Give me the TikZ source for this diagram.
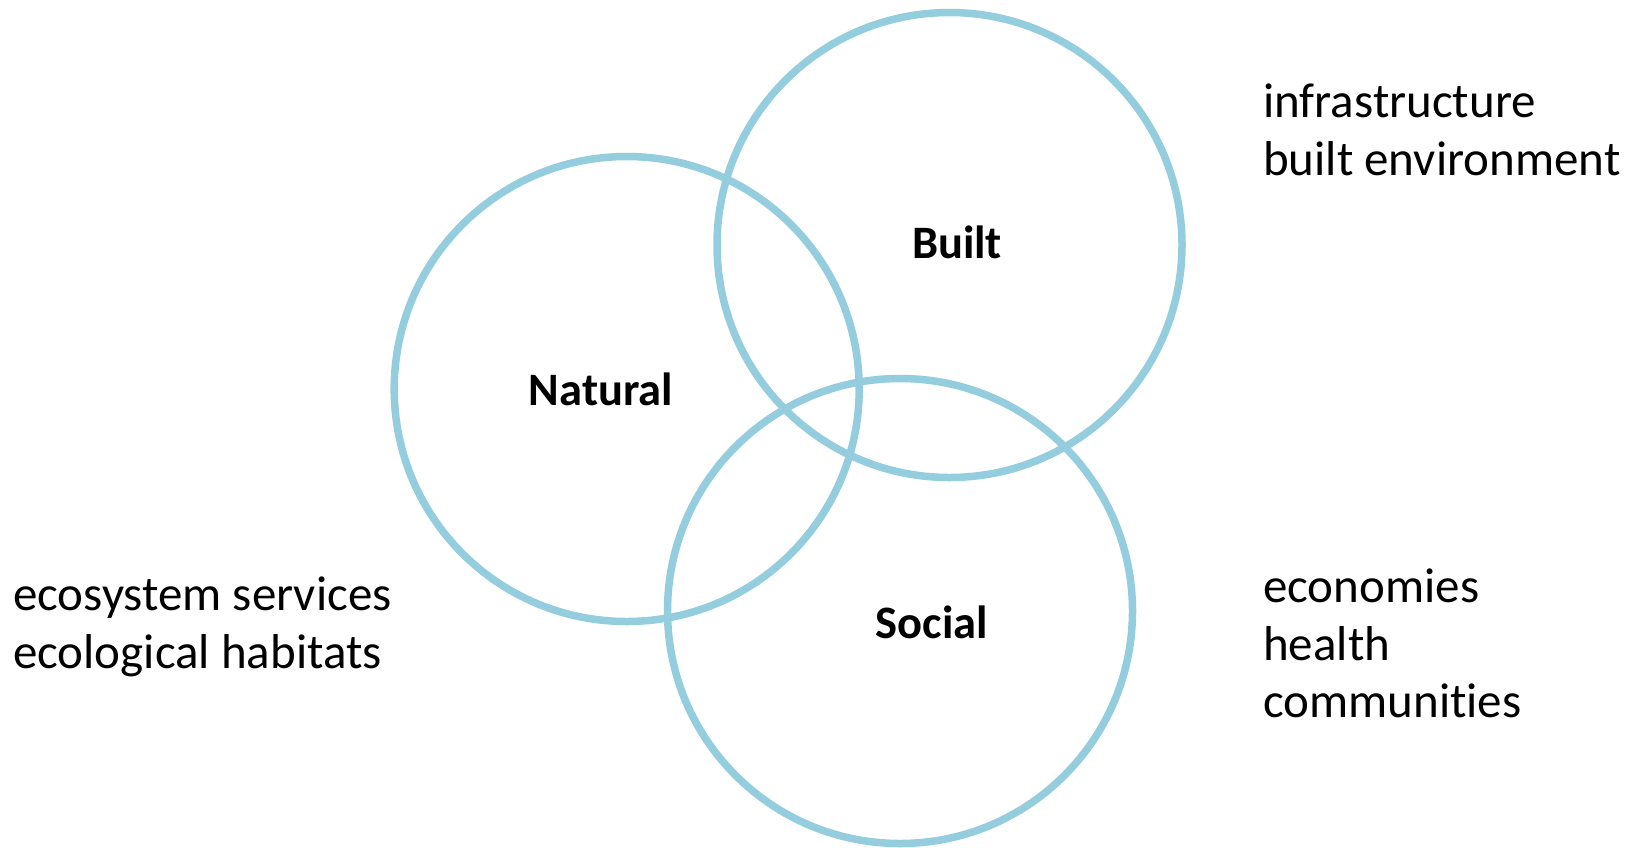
\documentclass[tikz,border=0pt]{standalone}
\usepackage{fontspec}
\setmainfont{Carlito}[Ligatures={NoCommon}]
\definecolor{ringblue}{RGB}{148,205,222}
\tikzset{
  ring/.style={circle, draw=ringblue, line width=7.5pt, minimum size=465pt, inner sep=0pt, outer sep=0pt},
  title/.style={anchor=base, inner sep=0pt, font=\fontsize{46.5}{55}\selectfont\bfseries, text=black},
  note/.style={anchor=base west, inner sep=0pt, align=left, font=\fontsize{49}{58}\selectfont, text=black}
}
\begin{document}
\begin{tikzpicture}[x=1pt,y=-1pt]
\fill[white] (0,0) rectangle (1630,847);
\useasboundingbox (0,0) rectangle (1630,847);
\node[ring] (natural) at (626.7,389) {};
\node[ring] (built) at (949.5,245) {};
\node[ring] (social) at (900,611) {};
\node[title] (tnat) at (601,405) {Natural};
\node[title] (tbuilt) at (957,258) {Built};
\node[title] (tsoc) at (932,638) {Social};
\node[note] (nbuilt1) at (1263,117) {infrastructure};
\node[note] (nbuilt2) at (1263,175) {built environment};
\node[note] (neco1) at (13,610) {ecosystem services};
\node[note] (neco2) at (13,668) {ecological habitats};
\node[note] (nsoc1) at (1263,602) {economies};
\node[note] (nsoc2) at (1263,660) {health};
\node[note] (nsoc3) at (1263,717) {communities};
\end{tikzpicture}
\end{document}
